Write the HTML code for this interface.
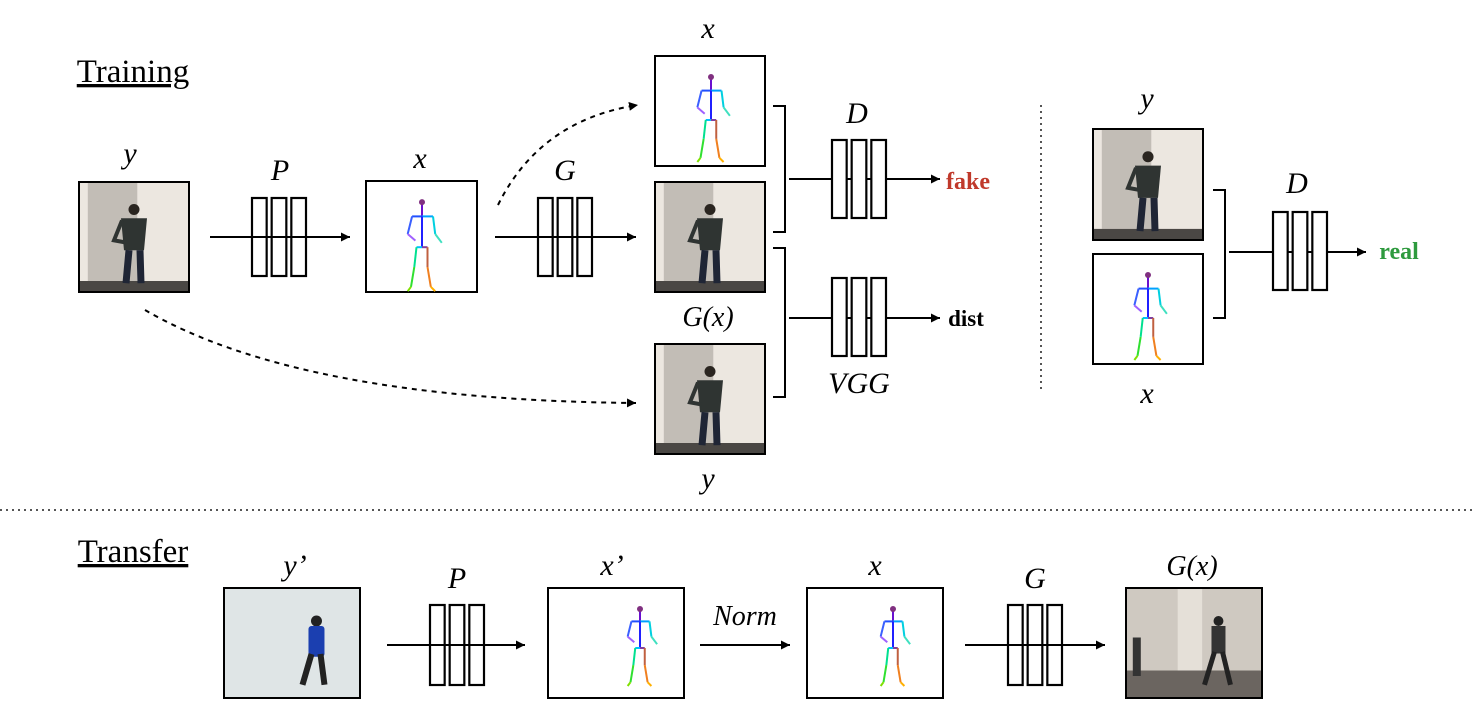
<!DOCTYPE html>
<html><head><meta charset="utf-8"><style>
html,body{margin:0;padding:0;background:#fff;}
svg{display:block;}
text{font-family:"Liberation Serif",serif;}
</style></head><body>
<svg id="s" width="1474" height="720" viewBox="0 0 1474 720">
<defs>
<marker id="ah" viewBox="0 0 10 10" refX="10" refY="5" markerWidth="9" markerHeight="9" markerUnits="userSpaceOnUse" orient="auto"><path d="M0,0 L10,5 L0,10 z" fill="#000"/></marker>
</defs>
<g id="g"></g>
</svg>
<script>
const NS='http://www.w3.org/2000/svg';
const G=document.getElementById('g');
function el(tag,attrs,parent){const e=document.createElementNS(NS,tag);for(const k in attrs)e.setAttribute(k,attrs[k]);(parent||G).appendChild(e);return e;}
function txt(x,y,s,size,opts,name){const t=el('text',Object.assign({x:x,y:y,'font-size':size,'text-anchor':'middle'},opts||{}));t.textContent=s;


return t;}
function arrow(x1,y1,x2,name){const l=el('line',{x1:x1,y1:y1,x2:x2,y2:y1,stroke:'#000','stroke-width':2,'marker-end':'url(#ah)'});

}
function block(x,y,w,h,name){const g=el('g',{});


const bw=(w-10)/3;for(let i=0;i<3;i++)el('rect',{x:x+i*(bw+5),y:y,width:bw,height:h,fill:'#fff',stroke:'#000','stroke-width':2.2},g);}
function photo(x,y,w,h,kind,name){const g=el('g',{});


if(kind==='blue'){el('rect',{x:x,y:y,width:w,height:h,fill:'#dfe5e6'},g);
 const px=x+w*0.68,py=y+h*0.3;
 el('circle',{cx:px,cy:py,r:h*0.05,fill:'#222'},g);
 el('rect',{x:px-8,y:py+5,width:16,height:h*0.28,fill:'#1b3fb0',rx:3},g);
 el('path',{d:`M${px-5},${py+h*0.3} L${px-14},${py+h*0.58} M${px+4},${py+h*0.3} L${px+8},${py+h*0.58}`,stroke:'#222','stroke-width':6},g);
} else if(kind==='room'){el('rect',{x:x,y:y,width:w,height:h,fill:'#cfc9c1'},g);
 el('rect',{x:x+w*0.38,y:y,width:w*0.18,height:h*0.75,fill:'#e5e0d8'},g);
 el('rect',{x:x,y:y+h*0.75,width:w,height:h*0.25,fill:'#6b6560'},g);
 el('rect',{x:x+w*0.05,y:y+h*0.45,width:8,height:h*0.35,fill:'#333'},g);
 const px=x+w*0.68,py=y+h*0.3;
 el('circle',{cx:px,cy:py,r:h*0.045,fill:'#222'},g);
 el('rect',{x:px-7,y:py+5,width:14,height:h*0.25,fill:'#333'},g);
 el('path',{d:`M${px-4},${py+h*0.28} L${px-14},${py+h*0.58} M${px+4},${py+h*0.28} L${px+12},${py+h*0.58}`,stroke:'#222','stroke-width':5},g);
} else {
 el('rect',{x:x,y:y,width:w,height:h,fill:'#ece7e0'},g);
 el('rect',{x:x+w*0.08,y:y,width:w*0.45,height:h*0.9,fill:'#c2bdb6'},g);
 el('rect',{x:x,y:y+h*0.9,width:w,height:h*0.1,fill:'#4a4744'},g);
 const px=x+w*0.5,py=y+h*0.25;
 el('circle',{cx:px,cy:py,r:h*0.05,fill:'#2a2520'},g);
 el('path',{d:`M${px-13},${py+h*0.08} L${px+13},${py+h*0.08} L${px+10},${py+h*0.37} L${px-10},${py+h*0.37} z`,fill:'#2f3432'},g);
 el('path',{d:`M${px-12},${py+h*0.1} L${px-20},${py+h*0.28} L${px-8},${py+h*0.3}`,stroke:'#2f3432','stroke-width':4,fill:'none'},g);
 el('path',{d:`M${px-5},${py+h*0.37} L${px-8},${py+h*0.67} M${px+6},${py+h*0.37} L${px+7},${py+h*0.67}`,stroke:'#1f2535','stroke-width':7},g);
}
el('rect',{x:x,y:y,width:w,height:h,fill:'none',stroke:'#000','stroke-width':2},g);}
function skel(x,y,w,h,cx,s,name){const g=el('g',{});


el('rect',{x:x,y:y,width:w,height:h,fill:'#fff',stroke:'#000','stroke-width':2},g);
const X=dx=>cx+dx*s, Y=dy=>y+h*0.2+dy*s;
const segs=[[0,0,0,12,'#6a10d0'],[0,12,-9,12,'#2050ff'],[-9,12,-13,28,'#3a60ff'],[-13,28,-6,34,'#a060ff'],[0,12,10,12,'#00a0ff'],[10,12,12,28,'#00d0e0'],[12,28,18,36,'#40e0c0'],[0,12,0,40,'#2020ff'],[0,40,-5,40,'#00c0ff'],[-5,40,-7,58,'#00e090'],[-7,58,-10,76,'#30e030'],[0,40,5,40,'#8040a0'],[5,40,5,58,'#c06040'],[5,58,8,76,'#f08020'],[-10,76,-13,80,'#80e000'],[8,76,12,80,'#ffb000']];
segs.forEach(q=>el('line',{x1:X(q[0]),y1:Y(q[1]),x2:X(q[2]),y2:Y(q[3]),stroke:q[4],'stroke-width':2},g));
el('circle',{cx:X(0),cy:Y(-1),r:3,fill:'#803080'},g);}
function bracket(x,y1,y2,name){const p=el('path',{d:`M${x},${y1} L${x+12},${y1} L${x+12},${y2} L${x},${y2}`,stroke:'#000','stroke-width':2,fill:'none'});

}
const I={'font-style':'italic'};
// Training
txt(133,82,'Training',33,{'text-decoration':'underline'},'training-title');
txt(130,163,'y',30,I,'label-y-input');
photo(79,182,110,110,'room2','input-photo-y');
txt(280,180,'P',30,I,'label-p');
block(252,198,54,78,'pose-network-p');
arrow(210,237,350,'arrow-to-pose');
txt(420,168,'x',30,I,'label-x');
skel(366,181,111,111,422,1.1,'pose-skeleton-x');
let d=el('path',{d:'M498,205 Q540,120 638,105',stroke:'#000','stroke-width':2,fill:'none','stroke-dasharray':'5,5','marker-end':'url(#ah)'});


d=el('path',{d:'M145,310 Q300,400 636,403',stroke:'#000','stroke-width':2,fill:'none','stroke-dasharray':'5,5','marker-end':'url(#ah)'});


txt(565,180,'G',30,I,'label-g');
block(538,198,54,78,'generator-g');
arrow(495,237,636,'arrow-to-generator');
txt(708,38,'x',30,I,'label-x-top');
skel(655,56,110,110,711,1.05,'skeleton-x-top');
photo(655,182,110,110,'room2','generated-photo-gx');
txt(708,326,'G(x)',28,I,'label-gx');
photo(655,344,110,110,'room2','real-photo-y');
txt(708,488,'y',30,I,'label-y-bottom');
bracket(773,106,232,'bracket-d');
arrow(789,179,940,'arrow-d');
block(832,140,54,78,'discriminator-d');
txt(857,123,'D',30,I,'label-d');
txt(968,189,'fake',24,{fill:'#c0392b','font-weight':'bold'},'output-fake');
bracket(773,248,397,'bracket-vgg');
arrow(789,318,940,'arrow-vgg');
block(832,278,54,78,'vgg-network');
txt(859,393,'VGG',30,I,'label-vgg');
txt(966,326,'dist',23,{'font-weight':'bold'},'output-dist');
let l=el('line',{x1:1041,y1:105,x2:1041,y2:390,stroke:'#555','stroke-width':2,'stroke-dasharray':'2,4'});


txt(1147,108,'y',30,I,'label-y-right');
photo(1093,129,110,111,'room2','real-photo-right');
skel(1093,254,110,110,1148,1.05,'skeleton-right');
txt(1147,403,'x',30,I,'label-x-right');
bracket(1213,190,318,'bracket-real');
arrow(1229,252,1366,'arrow-real');
block(1273,212,54,78,'discriminator-d-right');
txt(1297,193,'D',30,I,'label-d-right');
txt(1399,259,'real',24,{fill:'#2e9a3e','font-weight':'bold'},'output-real');
l=el('line',{x1:0,y1:510,x2:1474,y2:510,stroke:'#555','stroke-width':2,'stroke-dasharray':'2,4'});


// Transfer
txt(133,562,'Transfer',33,{'text-decoration':'underline'},'transfer-title');
txt(295,575,"y’",30,I,'label-y-prime');
photo(224,588,136,110,'blue','source-photo-y-prime');
txt(457,588,'P',30,I,'label-p-transfer');
block(430,605,54,80,'pose-network-transfer');
arrow(387,645,525,'arrow-transfer-pose');
txt(612,575,"x’",30,I,'label-x-prime');
skel(548,588,136,110,640,0.95,'skeleton-x-prime');
txt(745,625,'Norm',28,I,'label-norm');
arrow(700,645,790,'arrow-norm');
txt(875,575,'x',30,I,'label-x-transfer');
skel(807,588,136,110,893,0.95,'skeleton-x-normalized');
txt(1035,588,'G',30,I,'label-g-transfer');
block(1008,605,54,80,'generator-transfer');
arrow(965,645,1105,'arrow-transfer-generator');
txt(1192,575,'G(x)',28,I,'label-gx-transfer');
photo(1126,588,136,110,'room','output-photo-gx');
</script>
</body></html>
